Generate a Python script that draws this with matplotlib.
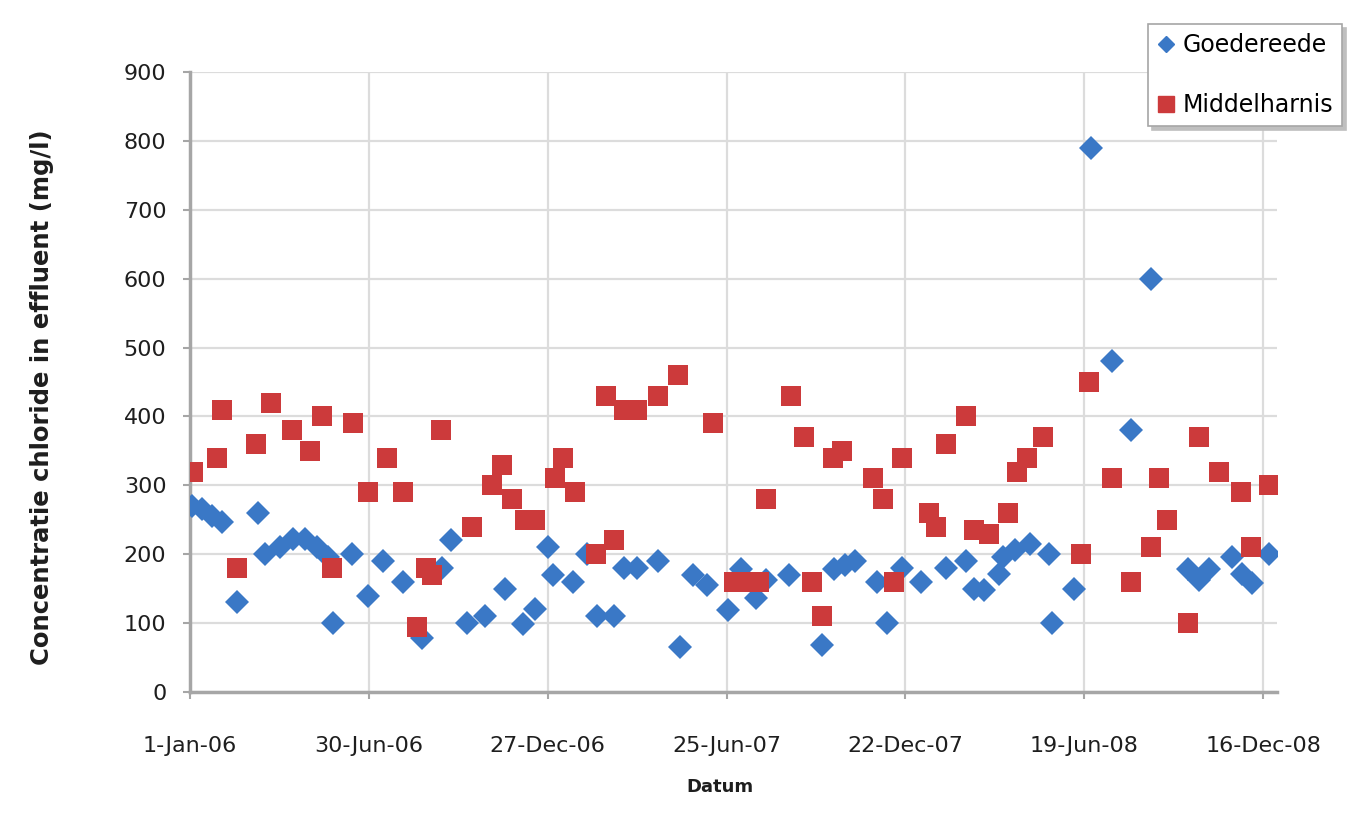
import pandas as pd
import matplotlib
matplotlib.use("Agg")
import matplotlib.pyplot as plt
import matplotlib.dates as mdates
from matplotlib.ticker import FuncFormatter, FixedLocator
from matplotlib.lines import Line2D

plt.rcParams['font.family'] = ['DejaVu Sans']

start = pd.Timestamp("2006-01-01")

# sampling day (days after 1-Jan-06) and chloride in effluent (mg/l)
goed_days = [2, 12, 22, 32, 47, 68, 75, 91, 104, 116, 128, 139, 144, 163, 179,
             194, 214, 233, 254, 263, 279, 297, 317, 335, 347, 360, 365, 385,
             400, 410, 427, 437, 450, 471, 493, 506, 520, 541, 555, 570, 580,
             603, 636, 648, 659, 669, 691, 701, 717, 736, 761, 781, 789, 799,
             814, 818, 830, 845, 865, 868, 890, 907, 928, 947, 967, 1004, 1016,
             1026, 1049, 1059, 1069, 1086]
goed_cl = [270, 265, 255, 247, 130, 260, 200, 210, 222, 222, 210, 196, 100, 200,
           140, 190, 160, 78, 180, 220, 100, 110, 150, 98, 120, 210, 170, 160,
           200, 110, 110, 180, 180, 190, 65, 170, 155, 119, 178, 136, 162, 170,
           68, 178, 185, 190, 160, 100, 180, 160, 180, 190, 150, 148, 172, 196,
           206, 215, 200, 100, 150, 790, 480, 380, 600, 178, 162, 178, 196, 172,
           158, 200]

midd_days = [3, 27, 32, 47, 66, 82, 103, 121, 133, 143, 164, 179, 198, 214, 228,
             238, 244, 253, 284, 304, 314, 324, 337, 347, 367, 375, 387, 409,
             419, 427, 437, 450, 471, 491, 526, 548, 561, 573, 580, 605, 618,
             626, 636, 647, 656, 687, 697, 709, 717, 744, 751, 761, 781, 789,
             804, 823, 832, 842, 858, 897, 905, 928, 947, 967, 975, 983, 1004,
             1016, 1036, 1058, 1068, 1086]
midd_cl = [320, 340, 410, 180, 360, 420, 380, 350, 400, 180, 390, 290, 340, 290,
           95, 180, 170, 380, 240, 300, 330, 280, 250, 250, 310, 340, 290, 200,
           430, 220, 410, 410, 430, 460, 390, 160, 160, 160, 280, 430, 370, 160,
           110, 340, 350, 310, 280, 160, 340, 260, 240, 360, 400, 235, 230, 260,
           320, 340, 370, 200, 450, 310, 160, 210, 310, 250, 100, 370, 320, 290,
           210, 300]

series_names = ["Goedereede", "Middelharnis"]
y_ticks = [0, 100, 200, 300, 400, 500, 600, 700, 800, 900]
tick_step_days = 180
n_xticks = 7
x_end_days = 1094

blue = '#3A78C6'
red = '#CC3A3B'

goed_dates = start + pd.to_timedelta(goed_days, unit="D")
midd_dates = start + pd.to_timedelta(midd_days, unit="D")
tick_dates = pd.date_range(start, periods=n_xticks, freq=f"{tick_step_days}D")

fig = plt.figure(figsize=(13.5, 8.25), dpi=100)
ax = fig.add_axes([190 / 1350, 1 - 692 / 825, 1087 / 1350, 620 / 825])

ax.plot(goed_dates, goed_cl, linestyle='none', marker='D', markersize=12.5,
        color=blue, markeredgewidth=0, zorder=3)
ax.plot(midd_dates, midd_cl, linestyle='none', marker='s', markersize=14,
        color=red, markeredgewidth=0, zorder=4)

ax.set_xlim(start, start + pd.Timedelta(days=x_end_days))
ax.set_ylim(y_ticks[0], y_ticks[-1])
ax.yaxis.set_major_locator(FixedLocator(y_ticks))
ax.xaxis.set_major_locator(FixedLocator(mdates.date2num(tick_dates)))
ax.xaxis.set_major_formatter(FuncFormatter(
    lambda v, p: f"{mdates.num2date(v).day}-{mdates.num2date(v).strftime('%b-%y')}"))

ax.grid(True, color='#DCDCDC', linewidth=1.6, zorder=0)
ax.set_axisbelow(True)
for side in ['top', 'right']:
    ax.spines[side].set_visible(False)
for side in ['left', 'bottom']:
    ax.spines[side].set_color('#A6A6A6')
    ax.spines[side].set_linewidth(2.5)

ax.tick_params(axis='y', length=5, width=1.5, color='#A6A6A6', pad=12,
               labelsize=16, labelcolor='#1E1E1E')
ax.tick_params(axis='x', length=5, width=1.5, color='#A6A6A6', pad=27,
               labelsize=16, labelcolor='#1E1E1E')

fig.text(42 / 1350, 1 - 397 / 825, "Concentratie chloride in effluent (mg/l)",
         rotation=90, ha='center', va='center', fontsize=17.5, fontweight='bold',
         color='#1E1E1E')
fig.text(720 / 1350, 1 - 787 / 825, "Datum", ha='center', va='center',
         fontsize=13, fontweight='bold', color='#1E1E1E')

handles = [Line2D([], [], linestyle='none', marker='D', markersize=8, color=blue),
           Line2D([], [], linestyle='none', marker='s', markersize=11, color=red)]
leg = ax.legend(handles, series_names, loc='upper left',
                bbox_to_anchor=(1148 / 1350, 1 - 24 / 825),
                bbox_transform=fig.transFigure, fontsize=17, frameon=True,
                fancybox=False, edgecolor='#A6A6A6', framealpha=1,
                handlelength=0.7, handletextpad=0.35, labelspacing=1.5,
                borderpad=0.4, borderaxespad=0,
                shadow={'ox': 3, 'oy': -3, 'color': '#BFBFBF', 'alpha': 1})
leg.get_frame().set_linewidth(1.2)

fig.savefig("out.png", dpi=100)
